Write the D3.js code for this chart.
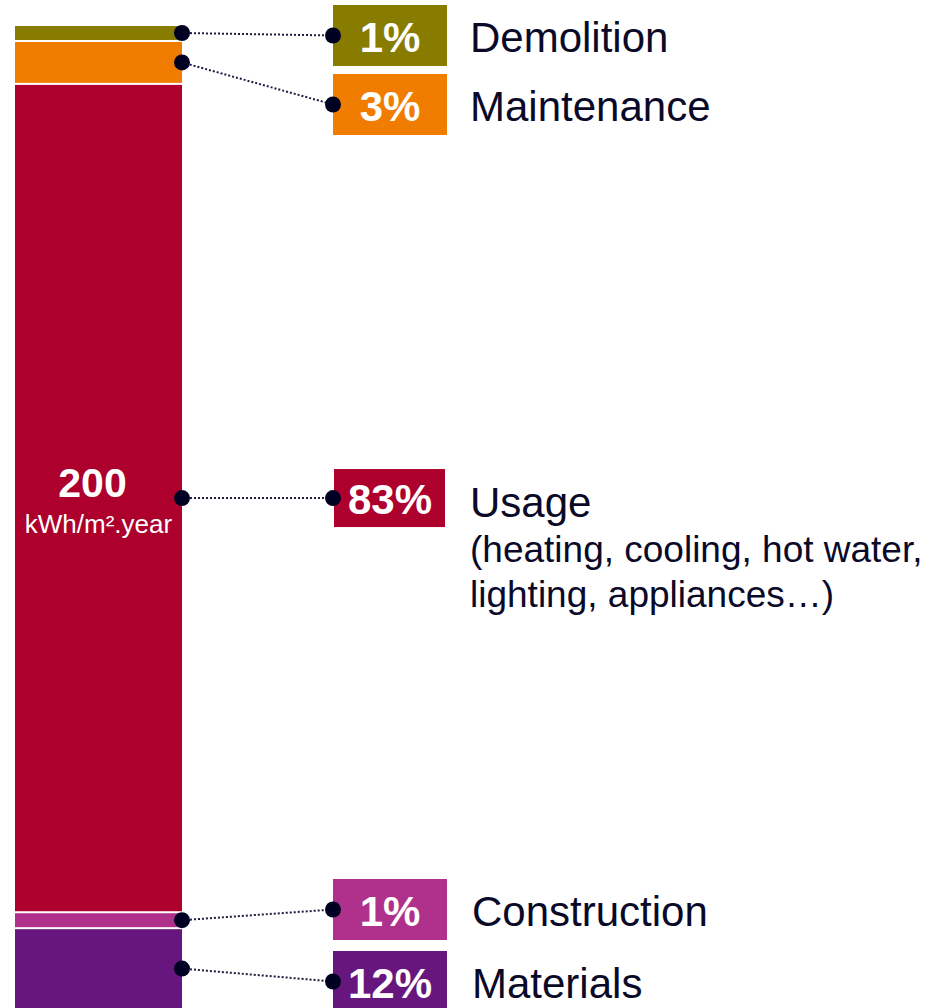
<!DOCTYPE html>
<html>
<head>
<meta charset="utf-8">
<script src="https://cdn.jsdelivr.net/npm/d3@7"></script>
<style>
  html, body { margin: 0; padding: 0; background: #fff; }
  svg { display: block; font-family: "Liberation Sans", Arial, sans-serif; }
</style>
</head>
<body>
<div id="chart"></div>
<script>
// Life-cycle energy breakdown of a building
const stages = ["Demolition", "Maintenance", "Usage", "Construction", "Materials"];
const sharePct = [1, 3, 83, 1, 12];             // printed shares
const barShare = [1.6, 4.3, 83, 1.6, 12];        // segment sizes as drawn in the bar
const stageColors = ["#877b00", "#f07d00", "#ad002c", "#b0318c", "#66167c"];
const usageTotal = 200;
const usageUnit = "kWh/m².year";
const usageDetail = ["(heating, cooling, hot water,", "lighting, appliances…)"];

const width = 941, height = 1008;
const bar = { x: 15, width: 167, top: 26, gap: 2 };
const box = { x: 333, width: 114, height: 61 };
const ink = "#0a0a28";

const svg = d3.select("#chart").append("svg")
  .attr("width", width).attr("height", height);

// stack the segments
let acc = 0;
const segments = stages.map((name, i) => {
  const s = { name, i, pct: sharePct[i], color: stageColors[i], start: acc, end: acc + barShare[i] };
  acc += barShare[i];
  return s;
});

const y = d3.scaleLinear().domain([0, 100]).range([bar.top, bar.top + 998]);

segments.forEach((s) => {
  s.y0 = y(s.start);
  s.y1 = y(s.end) - bar.gap;
  // dot sits in the middle of the visible part of the segment
  s.dotY = (s.y0 + Math.min(s.y1, height)) / 2;
});

// label slots: two stacked at the top, two at the bottom, usage aligned with its segment
const topPitch = 69, bottomPitch = 72;
segments.forEach((s) => {
  if (s.i < 2) s.boxY = 5 + s.i * topPitch;
  else if (s.i > 2) s.boxY = 951 - (segments.length - 1 - s.i) * bottomPitch;
  else s.boxY = s.dotY - 29;
  s.boxH = s.i === 2 ? 58 : box.height;
  s.boxMid = s.boxY + s.boxH / 2;
});

// bar segments
svg.append("g").selectAll("rect")
  .data(segments)
  .join("rect")
  .attr("x", bar.x)
  .attr("y", (d) => d.y0)
  .attr("width", bar.width)
  .attr("height", (d) => d.y1 - d.y0)
  .attr("fill", (d) => d.color);

// total inside the usage segment
const usage = segments[2];
svg.append("text")
  .attr("x", bar.x + bar.width / 2 - 6)
  .attr("y", usage.dotY - 1)
  .attr("text-anchor", "middle")
  .attr("fill", "#fff")
  .attr("font-weight", "bold")
  .attr("font-size", 41)
  .text(usageTotal);
svg.append("text")
  .attr("x", bar.x + bar.width / 2)
  .attr("y", usage.dotY + 35)
  .attr("text-anchor", "middle")
  .attr("fill", "#fff")
  .attr("font-size", 26)
  .text(usageUnit);

// percentage boxes
const labels = svg.append("g").selectAll("g")
  .data(segments)
  .join("g");

labels.append("rect")
  .attr("x", (d) => (d.i === 2 ? box.x + 1 : box.x))
  .attr("y", (d) => d.boxY)
  .attr("width", (d) => (d.i === 2 ? box.width - 3 : box.width))
  .attr("height", (d) => d.boxH)
  .attr("fill", (d) => d.color);

labels.append("text")
  .attr("x", box.x + box.width / 2)
  .attr("y", (d) => d.boxMid + 16)
  .attr("text-anchor", "middle")
  .attr("fill", "#fff")
  .attr("font-weight", "bold")
  .attr("font-size", 42)
  .text((d) => d.pct + "%");

labels.append("text")
  .attr("x", (d) => (d.i === 3 || d.i === 4 ? 472 : 470))
  .attr("y", (d) => d.boxMid + (d.i === 2 ? 19 : 16))
  .attr("fill", ink)
  .attr("font-size", 42)
  .text((d) => d.name);

// usage details
svg.append("g").selectAll("text")
  .data(usageDetail)
  .join("text")
  .attr("x", 470)
  .attr("y", (d, i) => usage.boxMid + 64 + i * 45)
  .attr("fill", ink)
  .attr("font-size", 37)
  .text((d) => d);

// connectors
const conn = svg.append("g");
conn.selectAll("line")
  .data(segments)
  .join("line")
  .attr("x1", bar.x + bar.width)
  .attr("y1", (d) => d.dotY)
  .attr("x2", box.x)
  .attr("y2", (d) => d.boxMid)
  .attr("stroke", "#1c1c40")
  .attr("stroke-width", 2)
  .attr("stroke-dasharray", "2,2");

conn.selectAll("circle.start")
  .data(segments)
  .join("circle")
  .attr("class", "start")
  .attr("cx", bar.x + bar.width)
  .attr("cy", (d) => d.dotY)
  .attr("r", 8)
  .attr("fill", "#000022");

conn.selectAll("circle.end")
  .data(segments)
  .join("circle")
  .attr("class", "end")
  .attr("cx", box.x)
  .attr("cy", (d) => d.boxMid)
  .attr("r", 8)
  .attr("fill", "#000022");
</script>
</body>
</html>
